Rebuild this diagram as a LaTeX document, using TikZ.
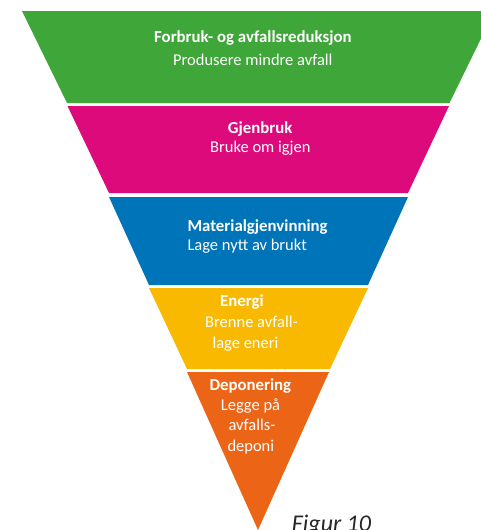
\documentclass[tikz,border=0pt]{standalone}
\usepackage{fontspec}
\setmainfont{Carlito}
\definecolor{cgreen}{HTML}{3FA639}
\definecolor{cmagenta}{HTML}{DC0A7B}
\definecolor{cblue}{HTML}{0074B8}
\definecolor{cyellow}{HTML}{F9B901}
\definecolor{corange}{HTML}{EC6516}
\definecolor{cfig}{HTML}{262626}
\begin{document}
\begin{tikzpicture}[x=1pt,y=-1pt,
  lbl/.style={text=white, font=\fontsize{16.5}{20}\selectfont, inner sep=0pt, anchor=base west},
  hd/.style={lbl, font=\fontsize{16.8}{20}\selectfont\bfseries},
  figlbl/.style={text=cfig, font=\fontsize{24}{28}\selectfont\itshape, inner sep=0pt, anchor=base west}]
\useasboundingbox (0,0) rectangle (481,530);
\clip (0,0) rectangle (481,530);
\fill[white] (0,0) rectangle (481,530);
% bands
\fill[cgreen] (22,11) -- (494.5,11) -- (449.5,103) -- (67,103) -- cycle;
\fill[cmagenta] (67.5,106) -- (449,106) -- (408,193) -- (109,193) -- cycle;
\fill[cblue] (109,197) -- (408,197) -- (368,285) -- (149,285) -- cycle;
\fill[cyellow] (149,288) -- (368,288) -- (330,369) -- (187,369) -- cycle;
\fill[corange] (187,372) -- (329,372) -- (258,530) -- cycle;
% texts
\node[hd] (t1) at (154,42.3) {Forbruk- og avfallsreduksjon};
\node[lbl] (s1) at (173,65.7) {Produsere mindre avfall};
\node[hd] (t2) at (227.7,133.3) {Gjenbruk};
\node[lbl] (s2) at (210,152.7) {Bruke om igjen};
\node[hd] (t3) at (187.3,231) {Materialgjenvinning};
\node[lbl] (s3) at (187.3,250) {Lage nytt av brukt};
\node[hd] (t4) at (220,306.7) {Energi};
\node[lbl] (s4a) at (205,327.7) {Brenne avfall-};
\node[lbl] (s4b) at (212.3,348.3) {lage eneri};
\node[hd] (t5) at (209.3,390.3) {Deponering};
\node[lbl] (s5a) at (220.7,410.3) {Legge på};
\node[lbl] (s5b) at (228.3,430.3) {avfalls-};
\node[lbl] (s5c) at (227.3,451) {deponi};
\node[figlbl] (fig) at (291.7,531) {Figur 10};
\end{tikzpicture}
\end{document}
